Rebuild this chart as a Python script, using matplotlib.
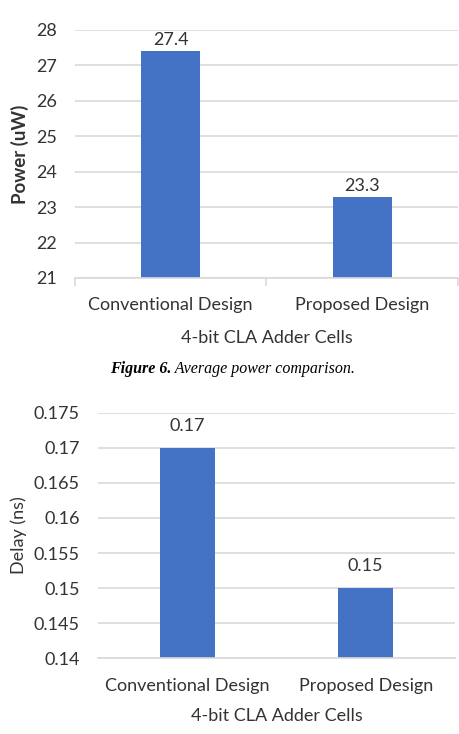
import matplotlib.pyplot as plt

categories = ["Conventional Design", "Proposed Design"]
power_uw = [27.4, 23.3]
power_labels = ["27.4", "23.3"]
delay_ns = [0.17, 0.15]
delay_labels = ["0.17", "0.15"]
power_ticks = [21, 22, 23, 24, 25, 26, 27, 28]
delay_ticks = [0.14, 0.145, 0.15, 0.155, 0.16, 0.165, 0.17, 0.175]
delay_tick_labels = ["0.14", "0.145", "0.15", "0.155", "0.16", "0.165", "0.17", "0.175"]
x_title = "4-bit CLA Adder Cells"

bar_color = "#4472C4"
text_color = "#333333"
grid_color = "#d9d9d9"

plt.rcParams["font.family"] = ["Lato", "DejaVu Sans"]

W, H = 460, 734
fig = plt.figure(figsize=(W / 100, H / 100), dpi=100)


def px_axes(left, right, top, bottom):
    return fig.add_axes([left / W, 1 - bottom / H, (right - left) / W, (bottom - top) / H])


def style(ax, ticks, tick_labels):
    ax.set_xlim(-0.5, 1.5)
    ax.set_ylim(ticks[0], ticks[-1])
    ax.set_yticks(ticks)
    ax.set_yticklabels(tick_labels)
    ax.set_xticks([0, 1])
    ax.set_xticklabels(categories)
    ax.yaxis.grid(True, color=grid_color, linewidth=1.2)
    ax.set_axisbelow(True)
    for s in ["top", "right", "left"]:
        ax.spines[s].set_visible(False)
    ax.spines["bottom"].set_color(grid_color)
    ax.spines["bottom"].set_linewidth(1.2)
    ax.tick_params(axis="y", length=0, pad=13, labelsize=13, labelcolor=text_color)
    ax.tick_params(axis="x", length=0, pad=14, labelsize=13, labelcolor=text_color)


# top chart: power
ax1 = px_axes(75, 458, 30, 278)
ax1.bar(range(len(categories)), power_uw, width=0.31, color=bar_color, zorder=2)
style(ax1, power_ticks, [str(t) for t in power_ticks])
ax1.set_xticks([-0.5, 0.5, 1.5], minor=True)
ax1.tick_params(axis="x", which="minor", length=6, width=1.2, color=grid_color)
for i, (v, lab) in enumerate(zip(power_uw, power_labels)):
    ax1.annotate(lab, (i, v), xytext=(0, 2), textcoords="offset points",
                 ha="center", va="bottom", fontsize=13, color=text_color)
ax1.set_ylabel("Power (uW)", fontsize=13.5, fontweight="bold", color=text_color, labelpad=5)
ax1.set_xlabel(x_title, fontsize=13, color=text_color, labelpad=12)

# caption
cap = fig.text(110 / W, 1 - 369 / H, "Figure 6.", family="Liberation Serif",
               style="italic", fontweight="bold", fontsize=11.5, ha="left", va="center")
ax1.annotate(" Average power comparison.", xy=(1, 0), xycoords=cap, ha="left", va="bottom",
             family="Liberation Serif", style="italic", fontsize=11.5, annotation_clip=False)

# bottom chart: delay
ax2 = px_axes(98, 455, 412.7, 658.3)
ax2.bar(range(len(categories)), delay_ns, width=0.31, color=bar_color, zorder=2)
style(ax2, delay_ticks, delay_tick_labels)
for i, (v, lab) in enumerate(zip(delay_ns, delay_labels)):
    ax2.annotate(lab, (i, v), xytext=(0, 10), textcoords="offset points",
                 ha="center", va="bottom", fontsize=13, color=text_color)
ax2.set_ylabel("Delay (ns)", fontsize=13, color=text_color, labelpad=5)
ax2.set_xlabel(x_title, fontsize=13, color=text_color, labelpad=10)

fig.savefig("out.png", dpi=100)
